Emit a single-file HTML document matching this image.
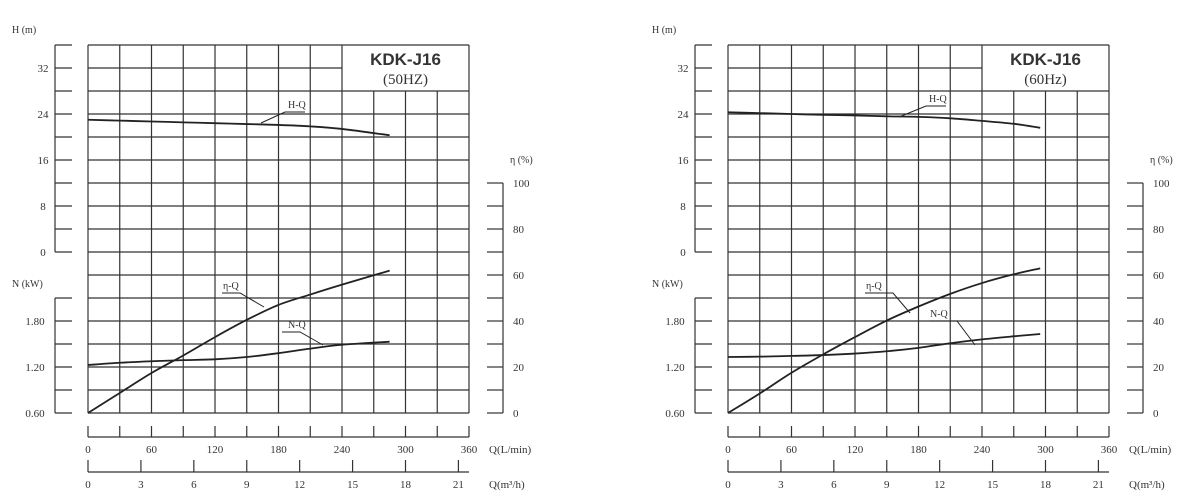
<!DOCTYPE html>
<html><head><meta charset="utf-8">
<style>
html,body{margin:0;padding:0;background:#fff;}
svg{display:block;font-family:"Liberation Serif","Noto Serif CJK SC",serif;}
.t{font-size:11px;fill:#333;}
</style></head>
<body>
<svg id="chart" width="1200" height="502" viewBox="0 0 1200 502" xmlns="http://www.w3.org/2000/svg"></svg>
<script>
const qTicks=[0,60,120,180,240,300,360];
const m3Ticks=[0,3,6,9,12,15,18,21];
const hTicks=[0,8,16,24,32];
const nTicks=[0.60,1.20,1.80];
const effTicks=[0,20,40,60,80,100];
const titles=["KDK-J16","KDK-J16"];
const subtitles=["(50HZ)","(60Hz)"];
// 50Hz
const q50=[0,30,60,90,120,150,180,210,240,285];
const h50=[23.0,22.85,22.7,22.55,22.4,22.25,22.1,21.85,21.4,20.3];
const e50=[0,8.7,17.4,25,33,40.5,47,51.5,55.8,61.9];
const n50=[1.226,1.255,1.275,1.29,1.30,1.33,1.38,1.44,1.49,1.53];
// 60Hz
const q60=[0,30,60,90,120,150,180,210,240,270,295];
const h60=[24.3,24.15,24.0,23.85,23.75,23.6,23.5,23.25,22.8,22.3,21.6];
const e60=[0,8.5,17.5,25.5,33,40.2,46.3,51.8,56.5,60.3,62.9];
const n60=[1.33,1.335,1.345,1.356,1.375,1.405,1.45,1.51,1.56,1.60,1.63];

const svg=document.getElementById('chart');
const NS='http://www.w3.org/2000/svg';
function mk(tag,attrs,parent){const e=document.createElementNS(NS,tag);for(const k in attrs)e.setAttribute(k,attrs[k]);(parent||svg).appendChild(e);return e;}
function txt(x,y,s,anchor,parent,size,weight,font){const e=mk('text',{x:x,y:y,'text-anchor':anchor||'middle',class:'t'},parent);if(size)e.style.fontSize=size+'px';if(weight)e.style.fontWeight=weight;if(font)e.style.fontFamily=font;e.textContent=s;return e;}

function panel(off,idx,qs,hs,es,ns){
  const g=mk('g',{});
  
  
  const x0=88+off,x1=469+off,y0=45,y1=413;
  const cw=(x1-x0)/12,rh=(y1-y0)/16;
  const X=q=>x0+q/360*(x1-x0);
  const YH=h=>252-h*5.75;
  const YE=e=>413-e*2.3;
  const YN=n=>413-(n-0.6)/0.6*46;
  const grid=mk('g',{stroke:'#333','stroke-width':1.2,fill:'none'},g);
  
  
  const bx=x0+8*cw, by=y0+2*rh;
  for(let i=0;i<=12;i++){const x=x0+i*cw;const top=(i>8&&i<12)?by:y0;mk('line',{x1:x,y1:top,x2:x,y2:y1},grid);}
  for(let j=0;j<=16;j++){const y=y0+j*rh;const right=(j==1)?bx:x1;mk('line',{x1:x0,y1:y,x2:right,y2:y},grid);}
  const tt=txt((bx+x1)/2,y0+20,titles[idx],'middle',g,17,'bold','"Liberation Sans",sans-serif');
  
  const st=txt((bx+x1)/2,y0+39,subtitles[idx],'middle',g,15);
  
  const ax=mk('g',{stroke:'#333','stroke-width':1.2},g);
  const la=55+off;
  mk('line',{x1:la,y1:y0,x2:la,y2:252},ax);
  for(let j=0;j<=9;j++){const y=y0+j*rh;mk('line',{x1:la,y1:y,x2:la+17,y2:y},ax);}
  mk('line',{x1:la,y1:298,x2:la,y2:y1},ax);
  for(let j=11;j<=16;j++){const y=y0+j*rh;mk('line',{x1:la,y1:y,x2:la+17,y2:y},ax);}
  hTicks.forEach(h=>txt(la-12,YH(h)+4,String(h),'middle',g,11));
  nTicks.forEach(n=>txt(la-20,YN(n)+4,n.toFixed(2),'middle',g,11));
  const hl=txt(12+off,33,'H (m)','start',g,10);
  const nl=txt(12+off,287,'N (kW)','start',g,10);
  const ra=503+off;
  mk('line',{x1:ra,y1:183,x2:ra,y2:y1},ax);
  for(let j=6;j<=16;j++){const y=y0+j*rh;mk('line',{x1:ra-16,y1:y,x2:ra,y2:y},ax);}
  effTicks.forEach(e=>txt(ra+10,YE(e)+4,String(e),'start',g,11));
  const el=txt(ra+7,163,'η (%)','start',g,10);
  mk('line',{x1:x0,y1:437,x2:x1,y2:437},ax);
  for(let i=0;i<=12;i++){const x=x0+i*cw;mk('line',{x1:x,y1:426,x2:x,y2:437},ax);}
  qTicks.forEach(q=>txt(X(q),453,String(q),'middle',g,11));
  const qa=txt(x1+20,453,'Q(L/min)','start',g,11);
  mk('line',{x1:x0,y1:472,x2:x1,y2:472},ax);
  m3Ticks.forEach(m=>{const x=X(m*1000/60);mk('line',{x1:x,y1:460,x2:x,y2:472},ax);txt(x,488,String(m),'middle',g,11);});
  const qb=txt(x1+20,488,'Q(m³/h)','start',g,11);
  function curve(ys,fy,name){
    const pts=qs.map((q,i)=>[X(q),fy(ys[i])]);
    let d='M'+pts[0][0]+','+pts[0][1];
    for(let i=0;i<pts.length-1;i++){const p0=pts[i-1]||pts[i],p1=pts[i],p2=pts[i+1],p3=pts[i+2]||p2;
      d+=' C'+(p1[0]+(p2[0]-p0[0])/6)+','+(p1[1]+(p2[1]-p0[1])/6)+' '+(p2[0]-(p3[0]-p1[0])/6)+','+(p2[1]-(p3[1]-p1[1])/6)+' '+p2[0]+','+p2[1];}
    const p=mk('path',{d:d,stroke:'#222','stroke-width':1.8,fill:'none'},g);
    
  }
  curve(hs,YH,'h-q-curve');curve(es,YE,'eta-q-curve');curve(ns,YN,'n-q-curve');
  function lab(tx,ty,s,ux1,ux2,ex,ey,name){
    const t=txt(tx,ty,s,'start',g,10);
    mk('polyline',{points:ux1+','+(ty+4)+' '+ux2+','+(ty+4)+' '+ex+','+ey,stroke:'#222','stroke-width':1,fill:'none'},g);
  }
  if(idx===0){
    lab(288,108,'H-Q',305,285,261,123,'h-q-label');
    lab(223,289,'η-Q',222,240,264,307,'eta-q-label');
    lab(288,328,'N-Q',282,300,323,345,'n-q-label');
  }else{
    lab(929,102,'H-Q',946,926,899,117,'h-q-label');
    lab(866,289,'η-Q',865,893,910,313,'eta-q-label');
    lab(930,317,'N-Q',930,957,975,345,'n-q-label');
  }
}
panel(0,0,q50,h50,e50,n50);
panel(640,1,q60,h60,e60,n60);
</script>
</body></html>
